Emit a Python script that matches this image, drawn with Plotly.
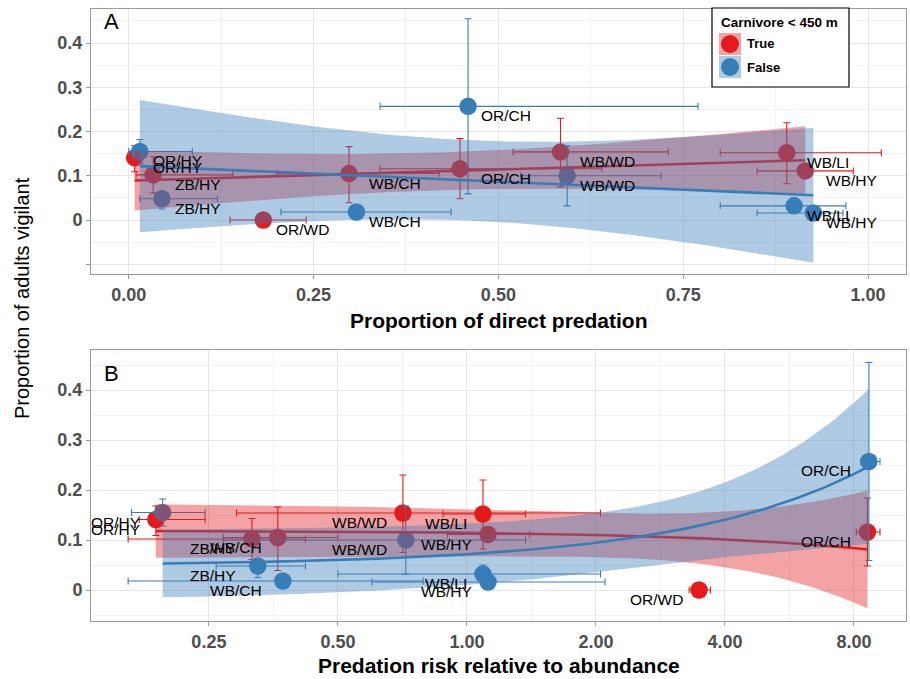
import numpy as np
import plotly.graph_objects as go

# ---------------- data ----------------
sites_red = ["OR/HY", "ZB/HY", "OR/WD", "WB/CH", "OR/CH", "WB/WD", "WB/LI", "WB/HY"]
sites_blue = ["OR/HY", "ZB/HY", "WB/CH", "OR/CH", "WB/WD", "WB/LI", "WB/HY"]

# proportion of adults vigilant (mean, lower, upper)
vig_red = [0.141, 0.102, 0.000, 0.105, 0.116, 0.154, 0.152, 0.111]
vig_red_lo = [0.109, 0.061, 0.000, 0.039, 0.048, 0.075, 0.082, 0.106]
vig_red_hi = [0.168, 0.143, 0.000, 0.166, 0.184, 0.230, 0.220, 0.116]
vig_blue = [0.155, 0.048, 0.018, 0.257, 0.100, 0.032, 0.016]
vig_blue_lo = [0.128, 0.025, 0.018, 0.059, 0.032, 0.018, 0.016]
vig_blue_hi = [0.182, 0.060, 0.018, 0.455, 0.168, 0.050, 0.016]

# panel A: proportion of direct predation
direct_red = [0.008, 0.033, 0.182, 0.298, 0.448, 0.584, 0.890, 0.915]
direct_red_lo = [0.002, 0.010, 0.137, 0.200, 0.340, 0.520, 0.800, 0.850]
direct_red_hi = [0.014, 0.141, 0.240, 0.420, 0.640, 0.730, 1.018, 0.980]
direct_blue = [0.015, 0.045, 0.308, 0.459, 0.593, 0.900, 0.926]
direct_blue_lo = [0.000, 0.015, 0.206, 0.340, 0.530, 0.800, 0.850]
direct_blue_hi = [0.086, 0.120, 0.436, 0.770, 0.720, 0.970, 0.966]

# panel B: predation risk relative to abundance
risk_red = [0.188, 0.315, 3.48, 0.362, 8.60, 0.709, 1.09, 1.12]
risk_red_lo = [0.172, 0.162, 3.30, 0.270, 8.10, 0.290, 0.880, 0.900]
risk_red_hi = [0.245, 0.420, 3.70, 0.500, 9.20, 2.050, 1.370, 1.400]
risk_blue = [0.195, 0.325, 0.372, 8.67, 0.720, 1.09, 1.12]
risk_blue_lo = [0.165, 0.260, 0.162, 8.30, 0.270, 0.500, 0.600]
risk_blue_hi = [0.245, 0.420, 0.790, 9.20, 1.370, 2.050, 2.100]

x_ticks_a = [0, 0.25, 0.5, 0.75, 1.0]
x_ticktext_a = ["0.00", "0.25", "0.50", "0.75", "1.00"]
x_ticks_b = [0.25, 0.5, 1, 2, 4, 8]
x_ticktext_b = ["0.25", "0.50", "1.00", "2.00", "4.00", "8.00"]
y_ticks_a = [-0.1, 0, 0.1, 0.2, 0.3, 0.4]
y_ticktext_a = ["", "0", "0.1", "0.2", "0.3", "0.4"]
y_ticks_b = [0, 0.1, 0.2, 0.3, 0.4]
y_ticktext_b = ["0", "0.1", "0.2", "0.3", "0.4"]

RED = "#E41A1C"
BLUE = "#377EB8"
RED_F = "rgba(228,26,28,0.4)"
BLUE_F = "rgba(55,126,184,0.4)"
T975 = {5: 2.570582, 6: 2.446912}

W, H = 910, 679
SANS = "Liberation Sans, Arial, sans-serif"


def px(x):
    return x / W


def py(y):
    return 1 - y / H


def ols_band(x, y, xs):
    x = np.asarray(x, float)
    y = np.asarray(y, float)
    n = len(x)
    mx = x.mean()
    sxx = ((x - mx) ** 2).sum()
    b = ((x - mx) * (y - y.mean())).sum() / sxx
    a = y.mean() - b * mx
    s = np.sqrt(((y - (a + b * x)) ** 2).sum() / (n - 2))
    fit = a + b * xs
    se = s * np.sqrt(1 / n + (xs - mx) ** 2 / sxx)
    t = T975[n - 2]
    return fit, fit - t * se, fit + t * se


fig = go.Figure()


def add_panel(xr, xr_lo, xr_hi, xb, xb_lo, xb_hi, xa, ya, logx):
    groups = [
        (xr, xr_lo, xr_hi, vig_red, vig_red_lo, vig_red_hi, RED, RED_F),
        (xb, xb_lo, xb_hi, vig_blue, vig_blue_lo, vig_blue_hi, BLUE, BLUE_F),
    ]
    for x, xl, xh, y, yl, yh, col, fcol in groups:
        x = np.array(x); y = np.array(y)
        fig.add_trace(go.Scatter(
            x=x, y=y, mode="markers", xaxis=xa, yaxis=ya,
            marker=dict(size=17.5, color=col, line=dict(width=0)),
            error_x=dict(type="data", symmetric=False, array=np.array(xh) - x,
                         arrayminus=x - np.array(xl), color=col, thickness=1.1, width=3.5),
            error_y=dict(type="data", symmetric=False, array=np.array(yh) - y,
                         arrayminus=y - np.array(yl), color=col, thickness=1.1, width=3.5),
            hoverinfo="skip", showlegend=False))
    for x, xl, xh, y, yl, yh, col, fcol in groups:
        x = np.array(x)
        if logx:
            xs = np.geomspace(x.min(), x.max(), 200)
        else:
            xs = np.linspace(x.min(), x.max(), 80)
        fit, lo, hi = ols_band(x, y, xs)
        fig.add_trace(go.Scatter(
            x=np.concatenate([xs, xs[::-1]]), y=np.concatenate([hi, lo[::-1]]),
            mode="lines", fill="toself", fillcolor=fcol, line=dict(width=0),
            xaxis=xa, yaxis=ya, hoverinfo="skip", showlegend=False))
        fig.add_trace(go.Scatter(
            x=xs, y=fit, mode="lines", line=dict(color=col, width=2.6),
            xaxis=xa, yaxis=ya, hoverinfo="skip", showlegend=False))


add_panel(direct_red, direct_red_lo, direct_red_hi, direct_blue, direct_blue_lo,
          direct_blue_hi, "x", "y", False)
add_panel(risk_red, risk_red_lo, risk_red_hi, risk_blue, risk_blue_lo,
          risk_blue_hi, "x2", "y2", True)

annotations = []
LBL = dict(family=SANS, size=15.5, color="black")

for sites_list, xvals, yvals in [(sites_red, direct_red, vig_red), (sites_blue, direct_blue, vig_blue)]:
    for s, xv, yv in zip(sites_list, xvals, yvals):
        pair = [v for n_, v in zip(sites_red, direct_red) if n_ == s] + \
               [v for n_, v in zip(sites_blue, direct_blue) if n_ == s]
        annotations.append(dict(x=max(pair), y=yv, xref="x", yref="y", text=s,
                                showarrow=False, xanchor="left", yanchor="top",
                                xshift=11, yshift=1, font=LBL))
for sites_list, xvals, yvals in [(sites_red, risk_red, vig_red), (sites_blue, risk_blue, vig_blue)]:
    for s, xv, yv in zip(sites_list, xvals, yvals):
        pair = [v for n_, v in zip(sites_red, risk_red) if n_ == s] + \
               [v for n_, v in zip(sites_blue, risk_blue) if n_ == s]
        annotations.append(dict(x=np.log10(min(pair)), y=yv, xref="x2", yref="y2", text=s,
                                showarrow=False, xanchor="right", yanchor="top",
                                xshift=-14, yshift=1, font=LBL))


def note(x, y, text, font, **kw):
    d = dict(x=px(x), y=py(y), xref="paper", yref="paper", text=text, showarrow=False,
             xanchor="center", yanchor="middle", font=font)
    d.update(kw)
    return d


TITLE = dict(family=SANS, size=21, color="black", weight="bold")
annotations += [
    note(498.5, 320, "Proportion of direct predation", TITLE),
    note(498.5, 665, "Predation risk relative to abundance", TITLE),
    note(22, 298, "Proportion of adults vigilant", dict(family=SANS, size=20, color="black"),
         textangle=-90),
    note(102, 22, "A", dict(family=SANS, size=22, color="black"), xanchor="left"),
    note(102, 373, "B", dict(family=SANS, size=22, color="black"), xanchor="left"),
    note(719, 23, "Carnivore < 450 m", dict(family=SANS, size=13.5, color="black", weight="bold"),
         xanchor="left"),
    note(745, 44, "True", dict(family=SANS, size=13, color="black", weight="bold"), xanchor="left"),
    note(745, 68, "False", dict(family=SANS, size=13, color="black", weight="bold"), xanchor="left"),
]

shapes = [
    dict(type="rect", xref="paper", yref="paper", x0=px(712), x1=px(849), y0=py(87), y1=py(8),
         line=dict(color="black", width=1.2), fillcolor="white", layer="above"),
    dict(type="rect", xref="paper", yref="paper", x0=px(719), x1=px(741), y0=py(55), y1=py(33),
         line=dict(width=0), fillcolor=RED_F, layer="above"),
    dict(type="rect", xref="paper", yref="paper", x0=px(719), x1=px(741), y0=py(78), y1=py(56),
         line=dict(width=0), fillcolor=BLUE_F, layer="above"),
    dict(type="circle", xref="paper", yref="paper", x0=px(721), x1=px(739), y0=py(53), y1=py(35),
         line=dict(width=0), fillcolor=RED, layer="above"),
    dict(type="circle", xref="paper", yref="paper", x0=px(721), x1=px(739), y0=py(76), y1=py(58),
         line=dict(width=0), fillcolor=BLUE, layer="above"),
]

TICKF = dict(family=SANS, size=18, color="#4d4d4d", weight="bold")
GRID = "#e6e6e6"
MINOR = "#f3f3f3"
LINE = "#9a9a9a"
common = dict(showline=True, linecolor=LINE, linewidth=1, mirror=True, ticks="outside",
              ticklen=4, tickcolor=LINE, tickwidth=1, showgrid=True, gridcolor=GRID,
              gridwidth=1, zeroline=False, tickfont=TICKF)

xdom = [px(91), px(906)]
fig.update_layout(
    width=W, height=H, margin=dict(l=0, r=0, t=0, b=0),
    plot_bgcolor="white", paper_bgcolor="white", showlegend=False,
    xaxis=dict(domain=xdom, range=[-0.051, 1.0513], tickmode="array", tickvals=x_ticks_a,
               ticktext=x_ticktext_a, anchor="y",
               minor=dict(tickmode="array", tickvals=[0.125, 0.375, 0.625, 0.875],
                          showgrid=True, gridcolor=MINOR, ticks=""), **common),
    yaxis=dict(domain=[py(274), py(9)], range=[-0.122, 0.477], tickmode="array",
               tickvals=y_ticks_a, ticktext=y_ticktext_a, anchor="x",
               minor=dict(tickmode="array", tickvals=[-0.05, 0.05, 0.15, 0.25, 0.35, 0.45],
                          showgrid=True, gridcolor=MINOR, ticks=""), **common),
    xaxis2=dict(domain=xdom, type="log", range=[np.log10(0.1327), np.log10(10.58)],
                tickmode="array", tickvals=x_ticks_b, ticktext=x_ticktext_b, anchor="y2",
                minor=dict(tickmode="array", tickvals=[0.3536, 0.7071, 1.4142, 2.8284, 5.6569],
                           showgrid=True, gridcolor=MINOR, ticks=""), **common),
    yaxis2=dict(domain=[py(621), py(350)], range=[-0.062, 0.48], tickmode="array",
                tickvals=y_ticks_b, ticktext=y_ticktext_b, anchor="x2",
                minor=dict(tickmode="array", tickvals=[-0.05, 0.05, 0.15, 0.25, 0.35, 0.45],
                           showgrid=True, gridcolor=MINOR, ticks=""), **common),
    annotations=annotations, shapes=shapes,
)

fig.write_html("out.html", config={"displayModeBar": False},
               post_script="document.body.style.margin='0';document.body.style.overflow='hidden';")
